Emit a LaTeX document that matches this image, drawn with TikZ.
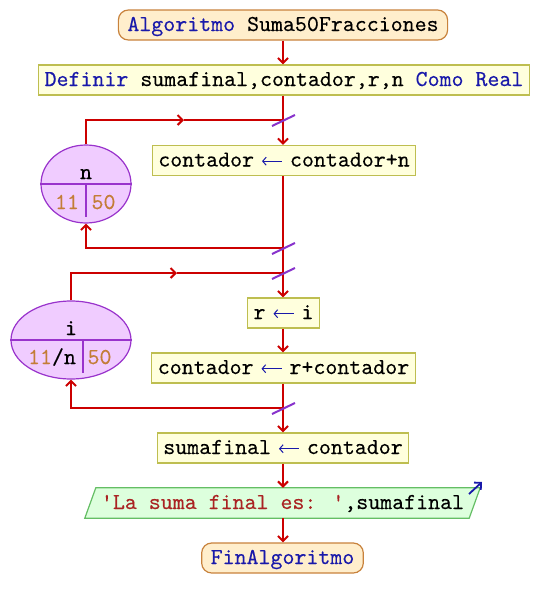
\documentclass[tikz,border=0pt]{standalone}
\usepackage{fontspec}
\newfontfamily\codefont{lmmono10-regular}[Extension=.otf, FakeBold=0.2]
\usetikzlibrary{arrows.meta,shapes.geometric}
\definecolor{kw}{RGB}{25,25,170}
\definecolor{strc}{RGB}{170,35,35}
\definecolor{numc}{RGB}{195,125,55}
\definecolor{flowc}{RGB}{204,0,0}
\definecolor{slashc}{RGB}{136,51,204}
\definecolor{procfill}{RGB}{255,255,221}
\definecolor{procdraw}{RGB}{190,190,80}
\definecolor{termfill}{RGB}{255,238,204}
\definecolor{termdraw}{RGB}{200,130,60}
\definecolor{ellfill}{RGB}{240,204,255}
\definecolor{elldraw}{RGB}{153,51,204}
\definecolor{outfill}{RGB}{221,255,221}
\definecolor{outdraw}{RGB}{100,190,100}
\newcommand\asg{\makebox[12pt]{\tikz[baseline=0pt]\draw[draw=kw, line width=1pt, {Straight Barb[length=3.5pt,width=8pt]}-] (-10pt,5.3pt) -- (10pt,5.3pt);}}
\tikzset{
  codetext/.style={font={\codefont\fontsize{22.8}{24}\selectfont}},
  proc/.style={codetext, draw=procdraw, fill=procfill, line width=1.2pt, minimum height=30pt,
    inner xsep=6pt, inner ysep=0pt, text height=15pt, text depth=3pt},
  term/.style={codetext, draw=termdraw, fill=termfill, line width=1.2pt, rounded corners=10pt,
    minimum height=30pt, inner xsep=9pt, inner ysep=0pt, text height=15pt, text depth=3pt},
  loopvar/.style={draw=elldraw, fill=ellfill, line width=1.2pt, ellipse, inner sep=0pt},
  divider/.style={draw=elldraw, line width=1.2pt},
  label/.style={codetext, anchor=base, inner sep=0pt},
  flowline/.style={draw=flowc, line width=2pt},
  flow/.style={flowline, -{Straight Barb[length=5pt,width=10pt]}},
  slash/.style={draw=slashc, line width=2pt},
}
\begin{document}
\begin{tikzpicture}[x=1pt,y=-1pt]
\fill[white] (0,0) rectangle (539,608);
\useasboundingbox (0,0) rectangle (539,608);

% main nodes
\node[term] (start) at (283,25) {\textcolor{kw}{Algoritmo} Suma50Fracciones};
\node[proc] (def) at (284,80) {\textcolor{kw}{Definir} sumafinal,contador,r,n \textcolor{kw}{Como Real}};
\node[proc] (c1) at (284,160.5) {contador \asg{} contador+n};
\node[proc] (r) at (283.5,313) {r \asg{} i};
\node[proc] (c2) at (283.5,368) {contador \asg{} r+contador};
\node[proc] (sf) at (283,448) {sumafinal \asg{} contador};
\node[codetext, minimum width=384pt, minimum height=30pt, inner sep=0pt,
      text height=15pt, text depth=3pt] (out) at (282.5,503) {};
\draw[draw=outdraw, fill=outfill, line width=1.2pt]
  ([xshift=5.5pt]out.north west) -- ([xshift=5.5pt]out.north east) --
  ([xshift=-5.5pt]out.south east) -- ([xshift=-5.5pt]out.south west) -- cycle;
\node[codetext, inner sep=0pt, text height=15pt, text depth=3pt] (outtext) at (282.5,503)
  {\textcolor{strc}{'La suma final es: '},sumafinal};
\node[term] (end) at (282.5,558) {\textcolor{kw}{FinAlgoritmo}};

% loop variable ellipses
\node[loopvar, minimum width=90pt, minimum height=78pt] (n) at (86,184) {};
\draw[divider] (n.west) -- (n.east);
\draw[divider] (n.center) -- ++(0,33);
\node[label] (nv) at (86,179) {n};
\node[label] (n11) at (67,209) {\textcolor{numc}{11}};
\node[label] (n50) at (103.5,209) {\textcolor{numc}{50}};

\node[loopvar, minimum width=120pt, minimum height=78pt] (i) at (71,340) {};
\draw[divider] (i.west) -- (i.east);
\draw[divider] (83,340) -- (83,373);
\node[label] (iv) at (71,335) {i};
\node[label] (i11) at (52,364) {\textcolor{numc}{11}/n};
\node[label] (i50) at (99.5,364) {\textcolor{numc}{50}};

% junctions
\coordinate (j1) at (283,120);
\coordinate (j2) at (283,248);
\coordinate (j3) at (283,273);
\coordinate (j4) at (283,408);
\coordinate (m1) at (184,120);
\coordinate (m2) at (177,273);

% main flow
\draw[flow] (start.south -| j1) -- (def.north -| j1);
\draw[flowline] (def.south -| j1) -- (j1);
\draw[flow] (j1) -- (j1 |- c1.north);
\draw[flowline] (j1 |- c1.south) -- (j2) -- (j3);
\draw[flow] (j3) -- (j3 |- r.north);
\draw[flow] (j3 |- r.south) -- (j3 |- c2.north);
\draw[flowline] (j3 |- c2.south) -- (j4);
\draw[flow] (j4) -- (j4 |- sf.north);
\draw[flow] (j4 |- sf.south) -- (j4 |- out.north);
\draw[flow] (j4 |- out.south) -- (j4 |- end.north);

% loops
\draw[flow] (j2) -| (n.south);
\draw[flow] (n.north) |- (m1);
\draw[flowline] (m1) -- (j1);
\draw[flow] (j4) -| (i.south);
\draw[flow] (i.north) |- (m2);
\draw[flowline] (m2) -- (j3);

% slashes
\foreach \j in {j1,j2,j3,j4}
  \draw[slash] ([shift={(-11,6)}]\j) -- ([shift={(12,-5)}]\j);

% output marker arrow
\coordinate (oa) at (469,494);
\coordinate (ob) at (482,482);
\draw[draw=kw, line width=1.8pt, -{Straight Barb[length=5pt,width=10pt]}] (oa) -- (ob);
\end{tikzpicture}
\end{document}
